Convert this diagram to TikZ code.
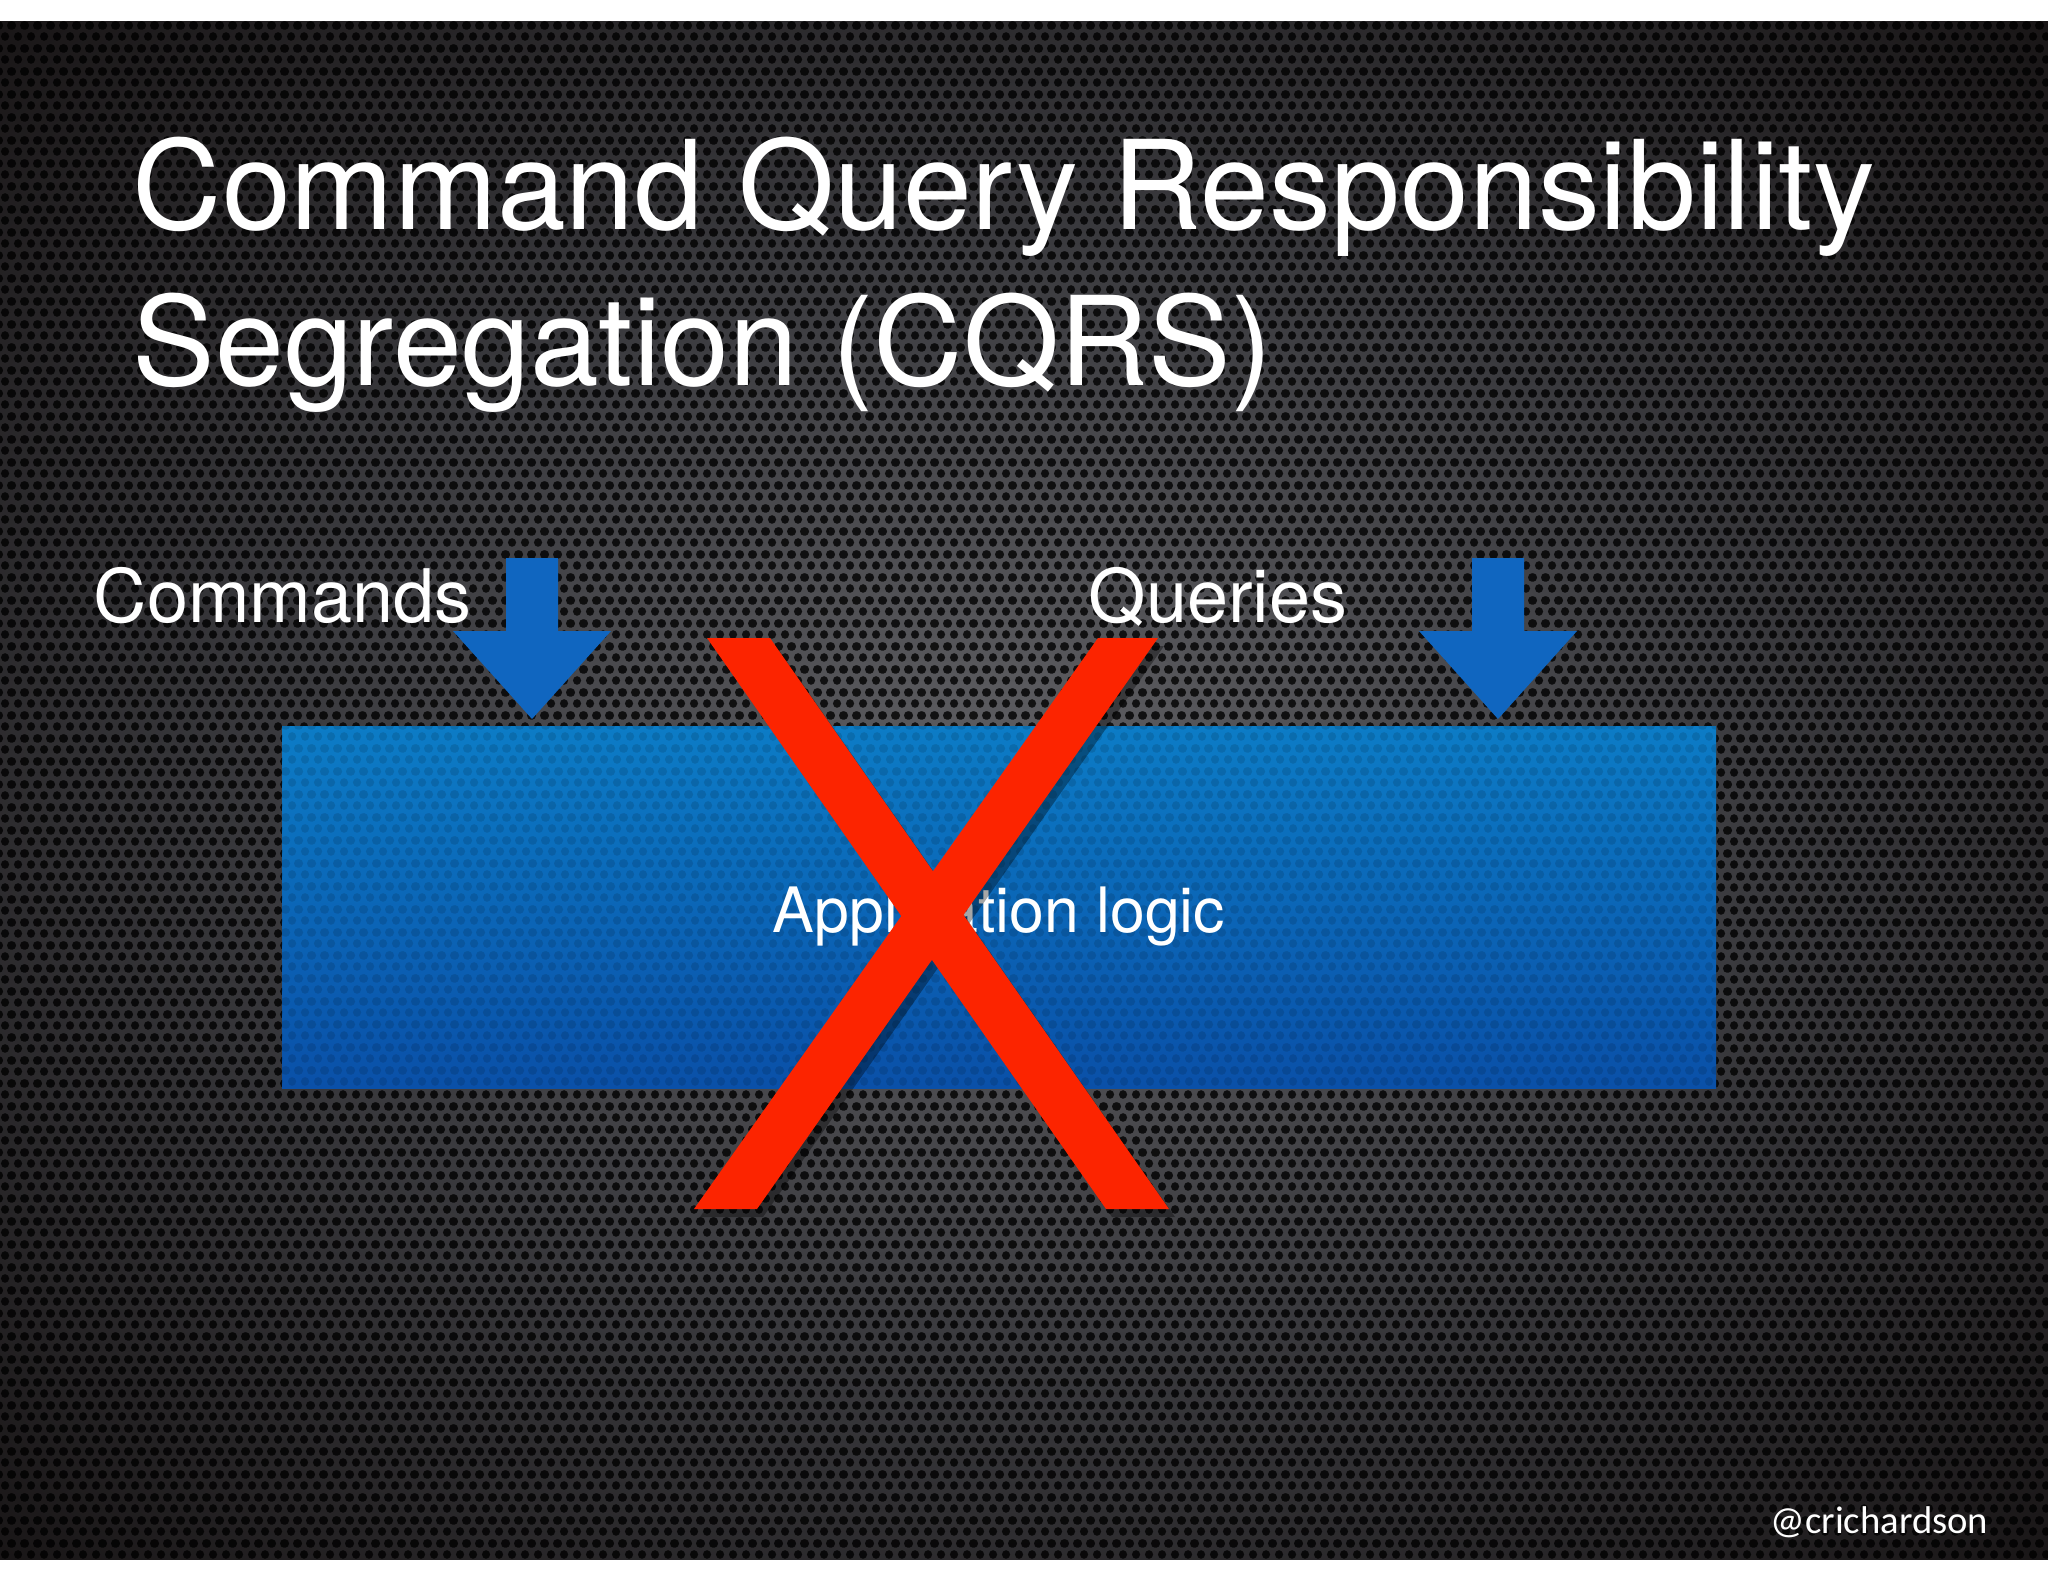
\documentclass[tikz,border=0pt]{standalone}
\usepackage{fontspec}
\setmainfont{TeX Gyre Heros}
\newfontfamily\handlefont{Carlito}
\usetikzlibrary{patterns}

\definecolor{bgmid}{RGB}{96,96,100}
\definecolor{bgmidtwo}{RGB}{58,58,62}
\definecolor{bgedge}{RGB}{16,12,12}
\definecolor{bgcorner}{RGB}{8,2,2}
\definecolor{boxtop}{RGB}{12,124,198}
\definecolor{boxbot}{RGB}{10,80,168}
\definecolor{arrowblue}{RGB}{16,102,192}
\definecolor{crossred}{RGB}{252,36,0}

% perforated metal look
\pgfdeclarepatternformonly{holes}{\pgfpointorigin}{\pgfpoint{3.7pt}{6.4pt}}{\pgfpoint{3.7pt}{6.4pt}}{%
  \pgfpathcircle{\pgfpoint{1.85pt}{1.6pt}}{1.25pt}
  \pgfpathcircle{\pgfpoint{0pt}{4.8pt}}{1.25pt}
  \pgfpathcircle{\pgfpoint{3.7pt}{4.8pt}}{1.25pt}
  \pgfusepath{fill}}
\pgfdeclareradialshading{slidebg}{\pgfpoint{0bp}{0bp}}{color(0bp)=(bgmid); color(18bp)=(bgmidtwo); color(40bp)=(bgedge); color(76bp)=(bgcorner)}

\newcommand\blockarrow[1]{%
  \fill[arrowblue, shift={(#1)}] (-26,-161) -- (26,-161) -- (26,-88) -- (79,-88)
    -- (0,0) -- (-79,-88) -- (-26,-88) -- cycle;}

\begin{document}
\begin{tikzpicture}[x=0.01cm, y=-0.01cm, inner sep=0pt,
    txt/.style={text=white},
    stroke/.style={fill=crossred}]
  \useasboundingbox (0,0) rectangle (2048,1582);
  \fill[white] (0,0) rectangle (2048,1582);

  % background
  \shade[shading=slidebg] (0,22) rectangle (2048,1559);
  \fill[pattern=holes, pattern color=black, opacity=0.8] (0,22) rectangle (2048,1559);

  % titles
  \node[txt, anchor=base west] (titleone) at (132,229) {\fontsize{35.2}{42}\selectfont Command Query Responsibility};
  \node[txt, anchor=base west] (titletwo) at (132,386) {\fontsize{35.2}{42}\selectfont Segregation (CQRS)};

  % labels and arrows
  \node[txt, anchor=base west] (cmdlabel) at (93,622) {\fontsize{21}{25}\selectfont Commands};
  \node[txt, anchor=base west] (qrylabel) at (1088,622) {\fontsize{21}{25}\selectfont Queries};
  \coordinate (cmdtip) at (532,719);
  \coordinate (qrytip) at (1498,719);
  \blockarrow{cmdtip}
  \blockarrow{qrytip}

  % application box
  \shade[top color=boxtop, bottom color=boxbot] (282,726) rectangle (1716,1088);
  \fill[pattern=holes, pattern color=black, opacity=0.12] (282,726) rectangle (1716,1088);
  \coordinate (appc) at (999,916);
  \node[txt] (applogic) at (appc) {\fontsize{17.8}{21}\selectfont Application logic};

  % the cross
  \fill[black, opacity=0.35] (713,646) -- (776,646) -- (1175,1217) -- (1112,1217) -- cycle;
  \fill[black, opacity=0.35] (1104,646) -- (1164,646) -- (763,1217) -- (700,1217) -- cycle;
  \fill[stroke] (707,638) -- (770,638) -- (1169,1209) -- (1106,1209) -- cycle;
  \fill[stroke] (1098,638) -- (1158,638) -- (757,1209) -- (694,1209) -- cycle;

  \node[txt, anchor=base east] (handle) at (1989,1533) {\handlefont\fontsize{11}{14}\selectfont @crichardson};
\end{tikzpicture}
\end{document}
